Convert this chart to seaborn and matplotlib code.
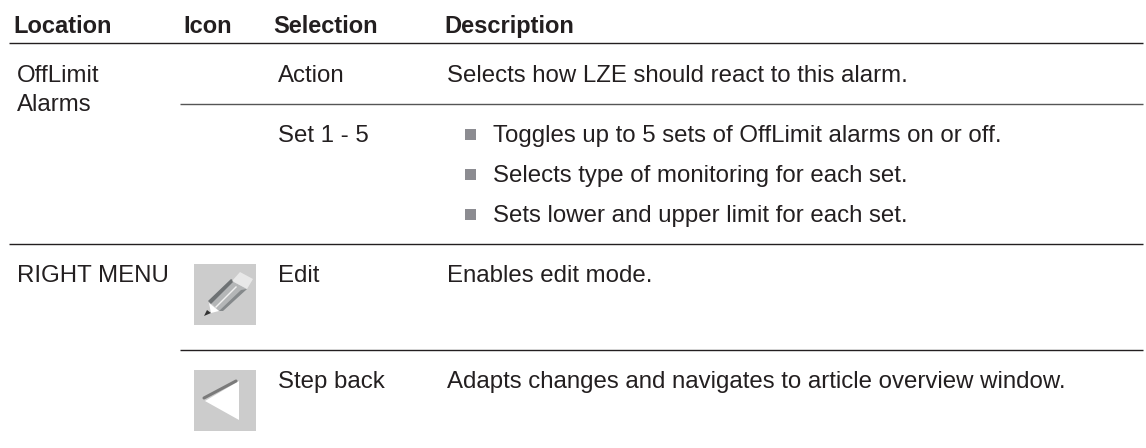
import matplotlib
matplotlib.use('Agg')
import matplotlib.pyplot as plt
from matplotlib.patches import Polygon, Rectangle
import seaborn as sns

# table content
headers = ['Location', 'Icon', 'Selection', 'Description']
locations = ['OffLimit', 'Alarms', 'RIGHT MENU']
selections = ['Action', 'Set 1 - 5', 'Edit', 'Step back']
descriptions = [
    'Selects how LZE should react to this alarm.',
    'Enables edit mode.',
    'Adapts changes and navigates to article overview window.',
]
bullets = [
    'Toggles up to 5 sets of OffLimit alarms on or off.',
    'Selects type of monitoring for each set.',
    'Sets lower and upper limit for each set.',
]

TEXT = '#231f20'
ICON_BG = '#cccccc'
FS = 17.25

sns.set_theme(style='white')
plt.rcParams['font.family'] = ['Liberation Sans', 'DejaVu Sans']

fig, ax = plt.subplots(figsize=(11.46, 4.48), dpi=100)
ax.set_position([0, 0, 1, 1])
ax.set_xlim(0, 1146)
ax.set_ylim(448, 0)
ax.axis('off')

# header
for label, x in zip(headers, [13, 183, 273.5, 444]):
    ax.text(x, 33, label, fontsize=17, fontweight='bold', color=TEXT, va='baseline')

# rules
ax.hlines(43.5, 9, 1143, color=TEXT, lw=1.0)
ax.hlines(104, 180, 1143, color='#555555', lw=1.0)
ax.hlines(244.5, 9, 1143, color=TEXT, lw=1.0)
ax.hlines(350, 180, 1143, color=TEXT, lw=1.0)

# first column
for label, y in zip(locations, [82, 111, 282]):
    ax.text(17, y, label, fontsize=FS, color=TEXT, va='baseline')

# selection column
for label, y in zip(selections, [82, 142, 282, 388]):
    ax.text(278, y, label, fontsize=FS, color=TEXT, va='baseline')

# description column
for label, y in zip(descriptions, [82, 282, 388]):
    ax.text(447, y, label, fontsize=FS, color=TEXT, va='baseline')

# bullet list
for label, y in zip(bullets, [142, 182, 222]):
    ax.add_patch(Rectangle((465, y - 13), 11, 11, color='#8c8c91', lw=0))
    ax.text(493, y, label, fontsize=FS, color=TEXT, va='baseline')

# pencil icon
ax.add_patch(Rectangle((194, 264), 62, 61, color=ICON_BG, lw=0))
ax.add_patch(Polygon([(210, 302), (232, 281), (247, 289), (219, 311)], color='#b4b6b7', lw=0))
ax.add_patch(Polygon([(208, 301), (231, 279), (234, 281), (211, 304)], color='#6e7274', lw=0))
ax.add_patch(Polygon([(215, 307), (236, 286), (237, 287), (216, 308)], color='#f0f0f0', lw=0))
ax.add_patch(Polygon([(219, 311), (241, 290), (247, 289), (223, 311)], color='#85898b', lw=0))
ax.add_patch(Polygon([(232, 281), (240, 272), (253, 279), (247, 289)], color='#e8e8e8', lw=0))
ax.add_patch(Polygon([(209, 303), (219, 311), (211, 313)], color='white', lw=0))
ax.add_patch(Polygon([(207, 310), (211, 313), (204, 316)], color='#333333', lw=0))

# step back icon
ax.add_patch(Rectangle((194, 370), 62, 61, color=ICON_BG, lw=0))
ax.add_patch(Polygon([(205, 401), (239, 381), (239, 420)], color='white', lw=0))
ax.plot([204, 236], [398, 381], color='#666666', lw=2.2, solid_capstyle='round', alpha=0.8)

fig.savefig('out.png', dpi=100)
